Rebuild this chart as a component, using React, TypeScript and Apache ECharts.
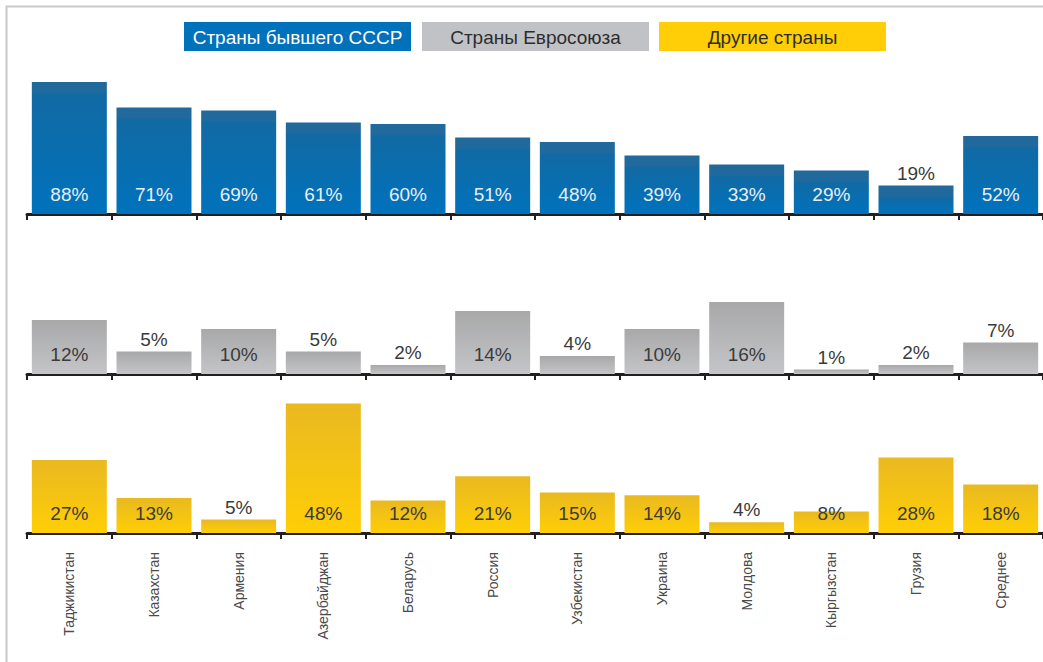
import React, { useEffect, useRef } from "react";
import * as echarts from "echarts";

const categories = [
  "Таджикистан", "Казахстан", "Армения", "Азербайджан", "Беларусь", "Россия",
  "Узбекистан", "Украина", "Молдова", "Кыргызстан", "Грузия", "Среднее",
];
const formerUSSR = [88, 71, 69, 61, 60, 51, 48, 39, 33, 29, 19, 52];
const euCountries = [12, 5, 10, 5, 2, 14, 4, 10, 16, 1, 2, 7];
const otherCountries = [27, 13, 5, 48, 12, 21, 15, 14, 4, 8, 28, 18];
const legendNames = ["Страны бывшего СССР", "Страны Евросоюза", "Другие страны"];

const FONT = "'Liberation Sans', Arial, sans-serif";
const AXIS_COLOR = "#231f20";
const DARK_TEXT = "#3b3b3b";

const panels = [
  {
    name: legendNames[0], data: formerUSSR, max: 90, top: 79, height: 135,
    threshold: 25, insideColor: "#e8eef6", legendColor: "#0071bb", legendText: "#ffffff",
    grad: (v: number, pxPerUnit: number) => {
      const band = Math.min(0.5, 11 / Math.max(1, v * pxPerUnit));
      return new echarts.graphic.LinearGradient(0, 0, 0, 1, [
        { offset: 0, color: "#22699b" },
        { offset: band, color: "#1f6a9d" },
        { offset: Math.min(1, band + 0.01), color: "#116aa4" },
        { offset: 1, color: "#0072bc" },
      ]);
    },
  },
  {
    name: legendNames[1], data: euCountries, max: 16, top: 302, height: 72,
    threshold: 8, insideColor: DARK_TEXT, legendColor: "#c1c2c6", legendText: "#2d2d2d",
    grad: () =>
      new echarts.graphic.LinearGradient(0, 0, 0, 1, [
        { offset: 0, color: "#a8a8a9" },
        { offset: 1, color: "#c4c5c8" },
      ]),
  },
  {
    name: legendNames[2], data: otherCountries, max: 50, top: 398, height: 135,
    threshold: 7, insideColor: DARK_TEXT, legendColor: "#ffce06", legendText: "#2d2d2d",
    grad: () =>
      new echarts.graphic.LinearGradient(0, 0, 0, 1, [
        { offset: 0, color: "#e9b921" },
        { offset: 1, color: "#ffce06" },
      ]),
  },
];

const legendBoxes = [
  { x: 184, w: 227 },
  { x: 422, w: 227 },
  { x: 659, w: 227 },
];

export default function App() {
  const ref = useRef<HTMLDivElement>(null);

  useEffect(() => {
    document.body.style.margin = "0";
    const chart = echarts.init(ref.current!, null, { renderer: "svg" });

    const grids = panels.map((p) => ({ left: 27, right: 0, top: p.top, height: p.height }));
    const xAxes = panels.map((p, i) => ({
      type: "category",
      gridIndex: i,
      data: categories,
      axisLine: { show: true, lineStyle: { color: AXIS_COLOR, width: 3 } },
      axisTick: { show: true, length: 6, lineStyle: { color: AXIS_COLOR, width: 2 } },
      axisLabel: {
        show: i === 2,
        rotate: 90,
        margin: 19,
        fontFamily: FONT,
        fontSize: 14,
        color: "#4a4a4a",
      },
    }));
    const yAxes = panels.map((p, i) => ({
      type: "value",
      gridIndex: i,
      min: 0,
      max: p.max,
      show: false,
      splitLine: { show: false },
    }));
    const series = panels.map((p, i) => {
      const pxPerUnit = p.height / p.max;
      return {
        name: p.name,
        type: "bar",
        xAxisIndex: i,
        yAxisIndex: i,
        barWidth: 75,
        label: {
          show: true,
          position: "insideBottom",
          distance: 10,
          formatter: "{c}%",
          fontFamily: FONT,
          fontSize: 19,
          color: p.insideColor,
        },
        data: p.data.map((v) => ({
          value: v,
          itemStyle: { color: p.grad(v, pxPerUnit) },
          label:
            v < p.threshold
              ? { position: "top", distance: 3, color: DARK_TEXT }
              : undefined,
        })),
      };
    });

    const graphic: any[] = [
      {
        type: "rect",
        shape: { x: 6.5, y: 6.5, width: 1100, height: 700 },
        style: { fill: "none", stroke: "#c9c9c9", lineWidth: 2 },
        silent: true,
      },
    ];
    panels.forEach((p, i) => {
      const b = legendBoxes[i];
      graphic.push({
        type: "rect",
        shape: { x: b.x, y: 22, width: b.w, height: 29 },
        style: { fill: p.legendColor },
      });
      graphic.push({
        type: "text",
        x: b.x + b.w / 2,
        y: 37,
        style: {
          text: p.name,
          fill: p.legendText,
          font: `19px ${FONT}`,
          textAlign: "center",
          textVerticalAlign: "middle",
          align: "center",
          verticalAlign: "middle",
        },
      });
    });

    chart.setOption({
      animation: false,
      backgroundColor: "#ffffff",
      grid: grids,
      xAxis: xAxes,
      yAxis: yAxes,
      series,
      graphic,
    });
    return () => chart.dispose();
  }, []);

  return <div ref={ref} style={{ width: 1043, height: 662 }} />;
}
